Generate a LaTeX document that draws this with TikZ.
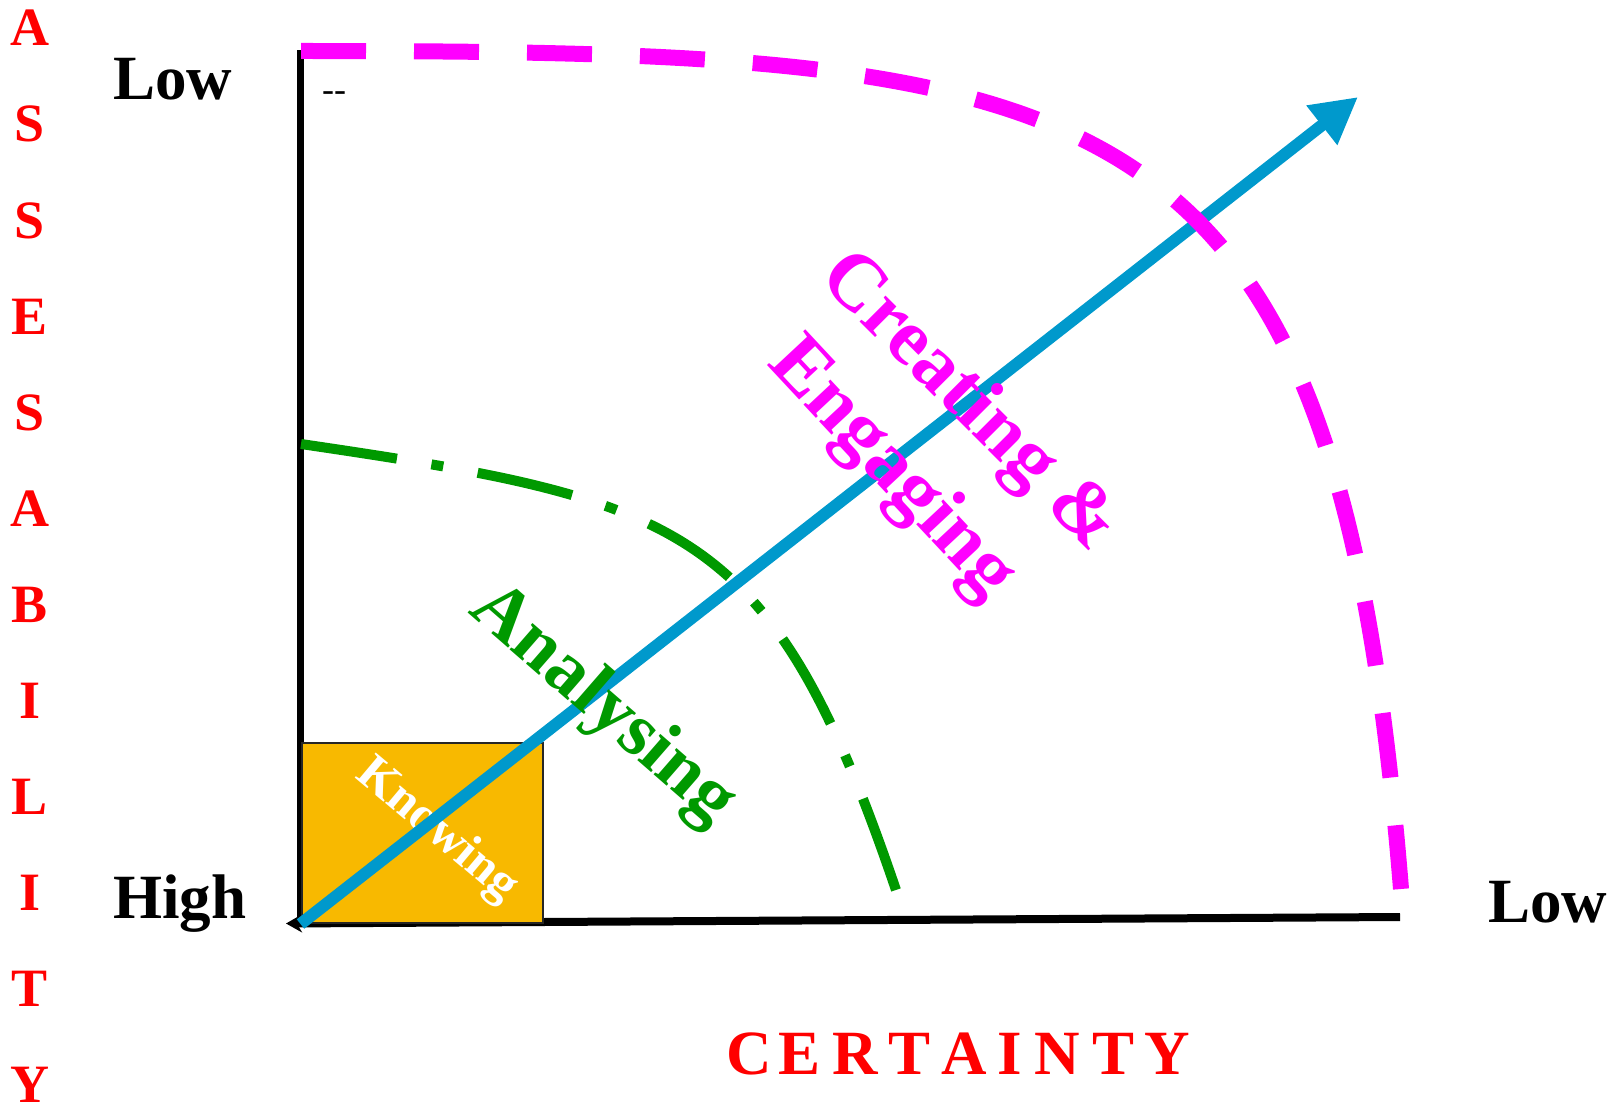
\documentclass[tikz,border=0pt]{standalone}
\usepackage{fontspec}
\setmainfont{Liberation Serif}
\usetikzlibrary{arrows.meta}
\definecolor{magC}{RGB}{255,0,255}
\definecolor{grnC}{RGB}{0,153,0}
\definecolor{bluC}{RGB}{0,153,204}
\definecolor{orgC}{RGB}{248,185,0}
\definecolor{redC}{RGB}{255,0,0}
\begin{document}
\begin{tikzpicture}[x=1pt,y=-1pt,
  axislbl/.style={font=\bfseries\fontsize{63}{70}\selectfont, anchor=base west, inner sep=0pt},
  vletter/.style={text=redC, font=\bfseries\fontsize{54}{60}\selectfont, anchor=base, inner sep=0pt},
  hletter/.style={text=redC, font=\bfseries\fontsize{63}{70}\selectfont, anchor=base, inner sep=0pt},
  zonelbl/.style={font=\bfseries\fontsize{#1}{#1}\selectfont, inner sep=0pt},
  kbox/.style={draw=black!85, line width=1.5pt, fill=orgC, minimum width=241pt, minimum height=180pt, inner sep=0pt, outer sep=0pt},
  magline/.style={magC, line width=16pt, dash pattern=on 65pt off 48pt},
  grnline/.style={grnC, line width=10pt, dash pattern=on 97pt off 35pt on 12pt off 35pt},
  bluline/.style={bluC, line width=12pt, -{Triangle[length=46pt,width=47pt]}}
]
\useasboundingbox (0,0) rectangle (1611,1102);

% coordinates
\coordinate (top) at (300.5,50);
\coordinate (O) at (300.5,924);
\coordinate (xend) at (1400,917);
\coordinate (xtip) at (286,923.5);
\coordinate (T) at (1358,97);
\coordinate (m0) at (301,51);
\coordinate (m1) at (1401,889);
\coordinate (g0) at (301,444);
\coordinate (g1) at (897,893);

% axes
\draw[line width=7pt] (top) -- (O);
\draw[line width=8pt, -{Stealth[length=16pt,width=18pt]}] (xend) -- (xtip);

% knowing box
\node[kbox] (box) at (422.5,833) {};
\node[zonelbl=50, text=white, rotate=-40] (know) at (437,831) {Knowing};

% green arc
\draw[grnline] (g0) .. controls (687,501) and (772,524) .. (g1);

% blue arrow
\draw[bluline] (O) -- (T);

% magenta arc
\draw[magline] (m0) .. controls (1113,51) and (1336,81) .. (m1);

% zone labels
\node[zonelbl=76, text=grnC, rotate=-41] (ana) at (602,706) {Analysing};
\node[zonelbl=80, text=magC, rotate=-45] (cre) at (968,403) {Creating \&};
\node[zonelbl=80, text=magC, rotate=-47] (eng) at (891,470) {Engaging};

% axis end labels
\node[axislbl] (lowy) at (113,100) {Low};
\node[axislbl] (high) at (113,918) {High};
\node[axislbl] (lowx) at (1488,922) {Low};
\node[font=\fontsize{36}{40}\selectfont, anchor=base west, inner sep=0pt] (dd) at (322,102) {-{}-};

% axis titles
\foreach \c [count=\i from 0] in {A,S,S,E,S,A,B,I,L,I,T,Y}
  \node[vletter] (v\i) at (30,{46+96*\i}) {\c};
\foreach \c/\x in {C/749,E/800,R/855,T/909,A/964,I/1010,N/1057,T/1113,Y/1167}
  \node[hletter] (c\x) at (\x,1074) {\c};
\end{tikzpicture}
\end{document}
